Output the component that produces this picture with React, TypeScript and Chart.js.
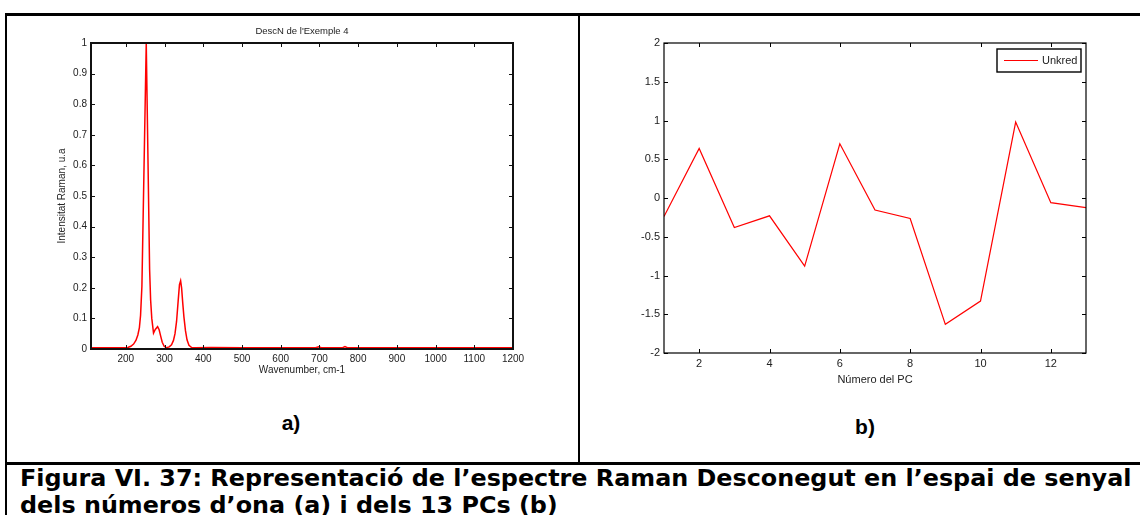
import React, { useEffect, useMemo, useRef } from "react";
import { Chart, registerables } from "chart.js";

Chart.register(...registerables);

// ---------- Data (a): Raman spectrum ----------
const WAVENUMBERS = [
  110, 150, 190, 205, 213, 220, 226, 231, 235, 238,
  241.5, 252.7, 261.4, 264, 267, 271.5, 276, 282, 286, 290,
  294, 299, 305, 312, 318, 323, 327, 331, 335, 338.5,
  341.5, 344, 347, 350, 354, 358, 363, 370, 380, 420,
  500, 600, 690, 698, 705, 760, 766, 772, 900, 1050,
  1200,
];
const INTENSITY = [
  0.004, 0.004, 0.004, 0.005, 0.009, 0.016, 0.028, 0.046, 0.07, 0.11,
  0.205, 1.0, 0.26, 0.16, 0.1, 0.052, 0.064, 0.073, 0.063, 0.042,
  0.022, 0.009, 0.004, 0.007, 0.014, 0.028, 0.05, 0.09, 0.155, 0.21,
  0.223, 0.2, 0.15, 0.105, 0.06, 0.03, 0.012, 0.005, 0.004, 0.005,
  0.004, 0.004, 0.004, 0.007, 0.004, 0.004, 0.008, 0.004, 0.004, 0.004,
  0.004,
];
const X_TICKS_A = [200, 300, 400, 500, 600, 700, 800, 900, 1000, 1100, 1200];
const Y_TICKS_A = [0, 0.1, 0.2, 0.3, 0.4, 0.5, 0.6, 0.7, 0.8, 0.9, 1];

// ---------- Data (b): PC scores ----------
const PC_NUMBERS = [1, 2, 3, 4, 5, 6, 7, 8, 9, 10, 11, 12, 13];
const PC_SCORES = [-0.24, 0.64, -0.38, -0.23, -0.88, 0.7, -0.155, -0.265, -1.63, -1.33, 0.98, -0.06, -0.125];
const X_TICKS_B = [2, 4, 6, 8, 10, 12];
const Y_TICKS_B = [-2, -1.5, -1, -0.5, 0, 0.5, 1, 1.5, 2];

const TITLE_A = "DescN de l'Exemple 4";
const XLABEL_A = "Wavenumber, cm-1";
const YLABEL_A = "Intensitat Raman, u.a";
const XLABEL_B = "Número del PC";
const SERIES_B = "Unkred";
const CAPTION_1 = "Figura VI. 37: Representació de l’espectre Raman Desconegut en l’espai de senyal";
const CAPTION_2 = "dels números d’ona (a) i dels 13 PCs (b)";

const FONT = '"Liberation Sans", Arial, sans-serif';

const matlabBox = {
  id: "matlabBox",
  afterDatasetsDraw(chart: any, _args: any, opts: any) {
    const { ctx, chartArea } = chart;
    const { left, right, top, bottom } = chartArea;
    const L = opts.tickLen ?? 4;
    ctx.save();
    ctx.strokeStyle = opts.color || "#000";
    ctx.lineWidth = 1;
    ctx.beginPath();
    const xs = chart.scales.x;
    const ys = chart.scales.y;
    xs.ticks.forEach((t: any) => {
      const px = Math.round(xs.getPixelForValue(t.value)) + 0.5;
      ctx.moveTo(px, bottom);
      ctx.lineTo(px, bottom - L);
      ctx.moveTo(px, top);
      ctx.lineTo(px, top + L);
    });
    ys.ticks.forEach((t: any) => {
      const py = Math.round(ys.getPixelForValue(t.value)) + 0.5;
      ctx.moveTo(left, py);
      ctx.lineTo(left + L, py);
      ctx.moveTo(right, py);
      ctx.lineTo(right - L, py);
    });
    ctx.stroke();
    ctx.lineWidth = opts.width || 1;
    ctx.strokeRect(left, top, right - left, bottom - top);
    ctx.restore();
  },
};

const boxLegend = {
  id: "boxLegend",
  afterDraw(chart: any, _args: any, opts: any) {
    if (!opts || !opts.show) return;
    const ds = chart.data.datasets[0];
    const { ctx, chartArea } = chart;
    const w = 84;
    const h = 23;
    const x0 = chartArea.right - 89;
    const y0 = chartArea.top + 6;
    ctx.save();
    ctx.fillStyle = "#fff";
    ctx.fillRect(x0, y0, w, h);
    ctx.strokeStyle = "#000";
    ctx.lineWidth = 1.4;
    ctx.strokeRect(x0, y0, w, h);
    ctx.strokeStyle = ds.borderColor;
    ctx.lineWidth = 1.2;
    ctx.beginPath();
    ctx.moveTo(x0 + 7, y0 + h / 2);
    ctx.lineTo(x0 + 41, y0 + h / 2);
    ctx.stroke();
    ctx.fillStyle = "#222";
    ctx.font = `11px ${FONT}`;
    ctx.textBaseline = "middle";
    ctx.textAlign = "left";
    ctx.fillText(ds.label, x0 + 45, y0 + h / 2 + 0.5);
    ctx.restore();
  },
};

function fixedTicks(values: number[]) {
  return (scale: any) => {
    scale.ticks = values.map((v) => ({ value: v }));
  };
}

export default function App() {
  const refA = useRef<HTMLCanvasElement>(null);
  const refB = useRef<HTMLCanvasElement>(null);

  const capSize = useMemo(() => {
    const c = document.createElement("canvas").getContext("2d");
    if (!c) return 24;
    c.font = 'bold 100px "DejaVu Sans"';
    const w = c.measureText(CAPTION_1).width;
    return (100 * 1112) / w;
  }, []);

  useEffect(() => {
    const chartA = new Chart(refA.current as HTMLCanvasElement, {
      type: "line",
      data: {
        datasets: [
          {
            label: "Spectrum",
            data: WAVENUMBERS.map((x, i) => ({ x, y: INTENSITY[i] })),
            borderColor: "#ff0000",
            borderWidth: 1.5,
            pointRadius: 0,
            tension: 0,
            fill: false,
          },
        ],
      },
      options: {
        animation: false,
        responsive: false,
        devicePixelRatio: 1,
        layout: { padding: { left: 0, right: 35, top: 0, bottom: 0 } },
        plugins: {
          legend: { display: false },
          tooltip: { enabled: false },
          title: {
            display: true,
            text: TITLE_A,
            color: "#222",
            fullSize: false,
            font: { family: FONT, size: 9.5, weight: "normal" },
            padding: { top: 6, bottom: 5.6 },
          },
          matlabBox: { color: "#111", width: 2, tickLen: 4 },
        } as any,
        scales: {
          x: {
            type: "linear",
            min: 110,
            max: 1200,
            afterBuildTicks: fixedTicks(X_TICKS_A),
            afterFit: (s: any) => {
              s.height = 27;
            },
            grid: { display: false, drawTicks: false },
            border: { display: false },
            ticks: {
              color: "#222",
              font: { family: FONT, size: 10 },
              padding: 4,
              maxRotation: 0,
              autoSkip: false,
              callback: (v: any) => String(v),
            },
            title: {
              display: true,
              text: XLABEL_A,
              color: "#222",
              font: { family: FONT, size: 10 },
              padding: 0,
            },
          },
          y: {
            type: "linear",
            min: 0,
            max: 1,
            afterBuildTicks: fixedTicks(Y_TICKS_A),
            afterFit: (s: any) => {
              s.width = 35;
            },
            grid: { display: false, drawTicks: false },
            border: { display: false },
            ticks: {
              color: "#222",
              font: { family: FONT, size: 10 },
              padding: 4,
              autoSkip: false,
              callback: (v: any) => String(v),
            },
            title: {
              display: true,
              text: YLABEL_A,
              color: "#222",
              font: { family: FONT, size: 10 },
              padding: 0,
            },
          },
        },
      } as any,
      plugins: [matlabBox],
    });

    const chartB = new Chart(refB.current as HTMLCanvasElement, {
      type: "line",
      data: {
        datasets: [
          {
            label: SERIES_B,
            data: PC_NUMBERS.map((x, i) => ({ x, y: PC_SCORES[i] })),
            borderColor: "#ff0000",
            borderWidth: 1.2,
            pointRadius: 0,
            tension: 0,
            fill: false,
          },
        ],
      },
      options: {
        animation: false,
        responsive: false,
        devicePixelRatio: 1,
        layout: { padding: { left: 0, right: 14, top: 13, bottom: 0 } },
        plugins: {
          legend: { display: false },
          tooltip: { enabled: false },
          title: { display: false },
          matlabBox: { color: "#000", width: 1.2, tickLen: 4 },
          boxLegend: { show: true },
        } as any,
        scales: {
          x: {
            type: "linear",
            min: 1,
            max: 13,
            afterBuildTicks: fixedTicks(X_TICKS_B),
            afterFit: (s: any) => {
              s.height = 34;
            },
            grid: { display: false, drawTicks: false },
            border: { display: false },
            ticks: {
              color: "#222",
              font: { family: FONT, size: 11 },
              padding: 4,
              maxRotation: 0,
              autoSkip: false,
              callback: (v: any) => String(v),
            },
            title: {
              display: true,
              text: XLABEL_B,
              color: "#222",
              font: { family: FONT, size: 11 },
              padding: 0,
            },
          },
          y: {
            type: "linear",
            min: -2,
            max: 2,
            afterBuildTicks: fixedTicks(Y_TICKS_B),
            afterFit: (s: any) => {
              s.width = 44;
            },
            grid: { display: false, drawTicks: false },
            border: { display: false },
            ticks: {
              color: "#222",
              font: { family: FONT, size: 11 },
              padding: 4,
              autoSkip: false,
              callback: (v: any) => String(v),
            },
          },
        },
      } as any,
      plugins: [matlabBox, boxLegend],
    });

    return () => {
      chartA.destroy();
      chartB.destroy();
    };
  }, []);

  const line = (s: React.CSSProperties) => (
    <div style={{ position: "absolute", background: "#000", ...s }} />
  );

  return (
    <div
      style={{
        position: "fixed",
        left: 0,
        top: 0,
        width: 1140,
        height: 515,
        background: "#fff",
        overflow: "hidden",
      }}
    >
      {line({ left: 5, top: 13, width: 1135, height: 3 })}
      {line({ left: 5, top: 13, width: 2, height: 502 })}
      {line({ left: 578, top: 13, width: 2, height: 450 })}
      {line({ left: 5, top: 462, width: 1135, height: 3 })}

      <canvas
        ref={refA}
        width={492}
        height={356}
        style={{ position: "absolute", left: 56, top: 20, width: 492, height: 356 }}
      />
      <canvas
        ref={refB}
        width={480}
        height={357}
        style={{ position: "absolute", left: 620, top: 30, width: 480, height: 357 }}
      />

      <div
        style={{
          position: "absolute",
          left: 241,
          width: 100,
          top: 412,
          lineHeight: "21px",
          fontSize: 21,
          fontWeight: "bold",
          fontFamily: FONT,
          textAlign: "center",
        }}
      >
        a)
      </div>
      <div
        style={{
          position: "absolute",
          left: 815,
          width: 100,
          top: 416,
          lineHeight: "21px",
          fontSize: 21,
          fontWeight: "bold",
          fontFamily: FONT,
          textAlign: "center",
        }}
      >
        b)
      </div>

      <div
        style={{
          position: "absolute",
          left: 20,
          top: 487 - 0.846 * capSize,
          fontSize: capSize,
          lineHeight: `${capSize}px`,
          fontWeight: "bold",
          fontFamily: '"DejaVu Sans", Verdana, sans-serif',
          whiteSpace: "nowrap",
          color: "#000",
        }}
      >
        {CAPTION_1}
      </div>
      <div
        style={{
          position: "absolute",
          left: 20,
          top: 514 - 0.846 * capSize,
          fontSize: capSize,
          lineHeight: `${capSize}px`,
          fontWeight: "bold",
          fontFamily: '"DejaVu Sans", Verdana, sans-serif',
          whiteSpace: "nowrap",
          color: "#000",
        }}
      >
        {CAPTION_2}
      </div>
    </div>
  );
}
